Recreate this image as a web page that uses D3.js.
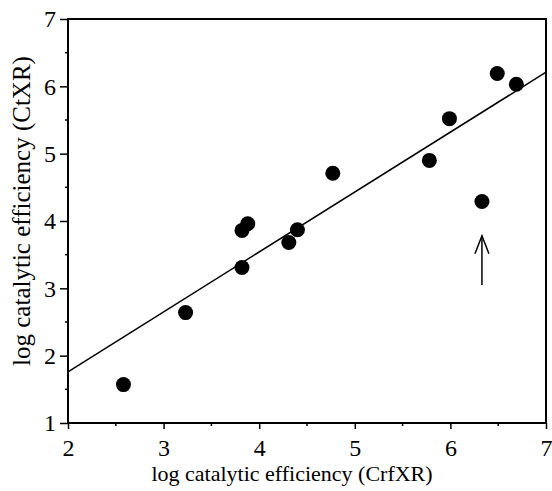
<!DOCTYPE html>
<html lang="en">

<head>
    <meta charset="utf-8">
    <title>CrfXR vs CtXR</title>
    <script type="text/javascript" src="https://cdnjs.cloudflare.com/ajax/libs/d3/7.8.5/d3.min.js"></script>
    <style>
        body { margin: 0; background: #fff; }
        text { font-family: "Liberation Serif", "Times New Roman", serif; fill: #000; }
    </style>
</head>

<body>

    <script type="text/javascript">
    // log catalytic efficiency values
    var crfxr = [2.58, 3.23, 3.82, 3.82, 3.88, 4.31, 4.40, 4.77, 5.78, 5.99, 6.33, 6.49, 6.69];
    var ctxr  = [1.57, 2.64, 3.31, 3.86, 3.96, 3.68, 3.87, 4.71, 4.90, 5.52, 4.29, 6.19, 6.03];

    // regression line end points
    var fitX = [2, 7];
    var fitY = [1.76, 6.21];

    // outlier marked with the arrow
    var arrowX = [6.33];
    var arrowY = [3.05, 3.78];

    var xTicks = [2, 3, 4, 5, 6, 7];
    var yTicks = [1, 2, 3, 4, 5, 6, 7];

    var width = 552,
        height = 491;
    var plotL = 68, plotR = 546, plotT = 19, plotB = 423;

    var svg = d3.select("body")
        .append("svg")
        .attr("width", width)
        .attr("height", height);

    var x = d3.scaleLinear().domain([2, 7]).range([plotL, plotR]);
    var y = d3.scaleLinear().domain([1, 7]).range([plotB, plotT]);

    // frame
    svg.append("rect")
        .attr("x", plotL)
        .attr("y", plotT)
        .attr("width", plotR - plotL)
        .attr("height", plotB - plotT)
        .attr("fill", "none")
        .attr("stroke", "#000")
        .attr("stroke-width", 2);

    // minor ticks
    var xMinor = d3.range(2.5, 7, 1);
    var yMinor = d3.range(1.5, 7, 1);
    svg.selectAll(".xminor").data(xMinor).enter().append("line")
        .attr("x1", function(d) { return x(d); })
        .attr("x2", function(d) { return x(d); })
        .attr("y1", plotB)
        .attr("y2", plotB + 3)
        .attr("stroke", "#000").attr("stroke-width", 1.5);
    svg.selectAll(".yminor").data(yMinor).enter().append("line")
        .attr("y1", function(d) { return y(d); })
        .attr("y2", function(d) { return y(d); })
        .attr("x1", plotL)
        .attr("x2", plotL - 3)
        .attr("stroke", "#000").attr("stroke-width", 1.5);

    var xAxis = svg.append("g")
        .attr("transform", "translate(0," + plotB + ")")
        .call(d3.axisBottom(x).tickValues(xTicks).tickSize(6).tickPadding(10).tickFormat(d3.format("d")));
    var yAxis = svg.append("g")
        .attr("transform", "translate(" + plotL + ",0)")
        .call(d3.axisLeft(y).tickValues(yTicks).tickSize(8).tickPadding(4).tickFormat(d3.format("d")));

    [xAxis, yAxis].forEach(function(g) {
        g.select(".domain").remove();
        g.selectAll(".tick line").attr("stroke-width", 1.5);
        g.selectAll("text").style("font-size", "24px")
            .style("font-family", "'Liberation Serif', serif");
    });

    // regression line
    svg.append("line")
        .attr("x1", x(fitX[0])).attr("y1", y(fitY[0]))
        .attr("x2", x(fitX[1])).attr("y2", y(fitY[1]))
        .attr("stroke", "#000")
        .attr("stroke-width", 1.5);

    // points
    svg.selectAll("circle").data(crfxr)
        .enter()
        .append("circle")
        .attr("cx", function(d) { return x(d); })
        .attr("cy", function(d, i) { return y(ctxr[i]); })
        .attr("r", 7.5)
        .attr("fill", "#000");

    // arrow
    var ax = x(arrowX[0]);
    svg.append("path")
        .attr("d", "M" + ax + "," + y(arrowY[0]) + "V" + y(arrowY[1]))
        .attr("stroke", "#000").attr("stroke-width", 1.5).attr("fill", "none");
    svg.append("path")
        .attr("d", "M" + (ax - 7) + "," + (y(arrowY[1]) + 18) + "L" + ax + "," + y(arrowY[1]) + "L" + (ax + 7) + "," + (y(arrowY[1]) + 18))
        .attr("stroke", "#000").attr("stroke-width", 1.5).attr("fill", "none");

    // axis titles
    svg.append("text")
        .attr("x", 292)
        .attr("y", 481)
        .attr("text-anchor", "middle")
        .style("font-size", "22px")
        .text("log catalytic efficiency (CrfXR)");

    svg.append("text")
        .attr("transform", "translate(30,211) rotate(-90)")
        .attr("text-anchor", "middle")
        .style("font-size", "25px")
        .text("log catalytic efficiency (CtXR)");
    </script>

</body>

</html>
